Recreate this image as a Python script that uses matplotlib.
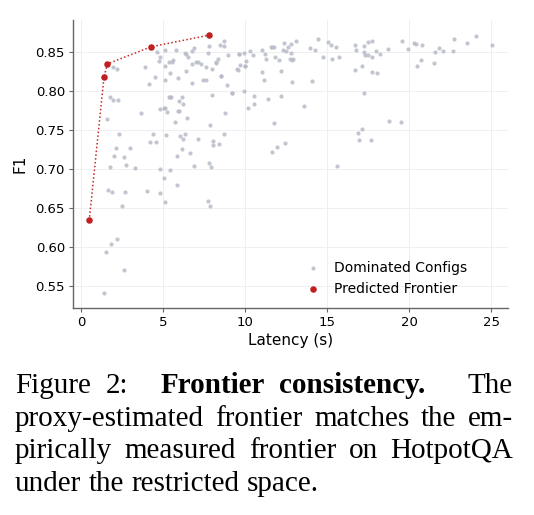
import matplotlib
matplotlib.use('Agg')
import matplotlib.pyplot as plt

# dominated configs (latency in s, F1)
dom_lat = [1.95, 2.2, 3.88, 4.13, 4.53, 4.63, 4.76, 4.84, 5.1, 5.1, 5.1, 5.35, 5.45, 5.53, 5.6, 5.81, 5.9,
           6.36, 6.4, 6.52, 6.38, 6.75, 6.87, 6.79, 6.79, 7.0, 7.15, 7.3, 7.44, 7.6, 7.62, 7.73, 7.8, 7.97,
           8.0, 8.2, 8.25, 8.35, 8.47, 8.5,
           1.75, 1.97, 2.24, 3.64, 4.8, 5.05, 5.1, 5.22, 5.35, 5.4, 5.5, 5.9, 5.95, 6.0, 6.15, 6.2, 6.48, 1.57,
           8.72, 8.74, 8.98, 8.55, 8.88, 9.17, 9.2, 8.78, 9.6, 9.65, 9.92, 10.04, 9.67, 9.51, 9.55, 9.98, 10.0,
           9.96, 10.3, 10.49, 10.57, 10.55, 10.16, 11.02, 11.2, 11.28, 11.02, 11.18, 11.4, 11.59, 11.63, 11.79,
           11.85, 12.05, 12.18, 12.18, 12.34, 12.32, 12.52, 12.6, 12.8, 12.8, 12.74, 12.86, 12.9, 13.09, 12.86,
           13.58, 13.96, 14.25, 14.43, 14.1, 14.74, 15.06, 15.22, 15.28, 15.53, 15.71, 16.67, 16.73, 17.13,
           16.71, 17.24,
           17.26, 17.46, 17.74, 17.26, 17.32, 17.5, 17.76, 17.95, 18.19, 17.76, 18.03, 18.72, 19.55, 19.92,
           20.26, 20.43, 20.77, 20.69, 20.5, 21.48, 21.54, 21.83, 22.03, 22.66, 22.74, 23.52, 24.09, 25.06,
           18.76, 19.5, 11.79, 11.63, 11.95, 12.46, 15.6, 16.9, 17.15, 16.93, 17.7, 8.74,
           2.3, 2.15, 2.03, 1.77, 2.99, 2.6, 2.74, 3.27, 1.65, 1.91, 2.68, 2.52, 4.02, 4.8, 5.12, 4.8, 5.08,
           5.45, 5.87, 4.39, 4.23, 4.55, 5.16, 5.73, 6.04, 6.22, 6.34, 6.18, 5.87, 6.63, 7.13, 6.89, 7.89,
           8.03, 8.07, 8.4, 7.79, 7.95, 7.76, 7.87,
           2.21, 1.81, 1.52, 2.6, 1.4]
dom_f1 = [.831, .828, .831, .809, .818, .850, .839, .844, .853, .833, .814, .837, .823, .838, .840, .853, .817,
          .849, .848, .844, .826, .852, .855, .835, .811, .838, .838, .835, .815, .814, .831, .849, .858, .828,
          .795, .837, .836, .842, .859, .819,
          .793, .789, .789, .772, .777, .779, .778, .773, .792, .792, .793, .775, .775, .788, .793, .783, .765, .764,
          .865, .858, .847, .819, .808, .798, .798, .772, .848, .848, .849, .839, .834, .828, .827, .833, .832,
          .800, .852, .847, .794, .784, .778, .853, .848, .841, .825, .814, .790, .857, .857, .857,
          .844, .840, .826, .794, .862, .853, .852, .857, .861, .849, .842, .840, .842, .864, .812,
          .781, .856, .853, .867, .813, .844, .863, .860, .842, .857, .844, .859, .853, .833,
          .827, .798,
          .858, .863, .865, .851, .846, .846, .844, .852, .848, .825, .824, .854, .865, .854,
          .862, .861, .859, .840, .833, .836, .850, .856, .852, .852, .867, .862, .871, .859,
          .762, .760, .759, .722, .729, .734, .704, .747, .752, .737, .737, .745,
          .745, .727, .717, .703, .727, .716, .705, .702, .673, .671, .671, .653, .672, .669, .658, .700, .689,
          .699, .679, .745, .735, .735, .744, .760, .742, .739, .745, .726, .717, .721, .739, .704, .757,
          .736, .731, .732, .708, .703, .659, .652,
          .610, .604, .593, .571, .541]

front_lat = [0.5, 1.4, 1.6, 4.25, 7.8]
front_f1 = [0.634, 0.818, 0.835, 0.857, 0.872]

x_ticks = [0, 5, 10, 15, 20, 25]
y_ticks = [0.55, 0.60, 0.65, 0.70, 0.75, 0.80, 0.85]

W, H = 534, 515
fig = plt.figure(figsize=(W / 100, H / 100), dpi=100)
ax = fig.add_axes([73.3 / W, 1 - 307.7 / H, 434.4 / W, 287.7 / H])

ax.grid(True, color='#efeff2', linewidth=0.7, zorder=0)
ax.scatter(dom_lat, dom_f1, s=9, color='#b7bcc8', alpha=0.85, linewidths=0,
           label='Dominated Configs', zorder=2)
ax.plot(front_lat, front_f1, linestyle=(0, (1, 1.5)), color='#c62828', linewidth=1.1, zorder=3)
ax.scatter(front_lat, front_f1, s=22, color='#c0201f', linewidths=0,
           label='Predicted Frontier', zorder=4)

ax.set_xlim(-0.47, 26.0)
ax.set_ylim(0.522, 0.8915)
ax.set_xticks(x_ticks)
ax.set_yticks(y_ticks)
ax.set_yticklabels(['%.2f' % v for v in y_ticks])
ax.tick_params(labelsize=9.5, length=3, pad=3, color='#666666', width=0.8)

for s in ['top', 'right']:
    ax.spines[s].set_visible(False)
for s in ['left', 'bottom']:
    ax.spines[s].set_color('#666666')
    ax.spines[s].set_linewidth(1.0)

ax.set_xlabel('Latency (s)', fontsize=11, labelpad=3)
ax.set_ylabel('F1', fontsize=11, labelpad=6)

ax.legend(loc='center left', bbox_to_anchor=(0.50, 0.103), frameon=False, fontsize=10,
          handlelength=1.4, handletextpad=0.8, labelspacing=0.5, borderpad=0.4)

# caption below the chart, justified like the paper
cap_fs = 21
r = fig.canvas.get_renderer()


def put_line(words, baseline, x0=15, x1=513, justify=True, weights=None):
    objs = [fig.text(0, 1 - baseline / H, w, fontsize=cap_fs, family='Liberation Serif',
                     weight=wt, va='baseline', ha='left') for w, wt in words]
    widths = [o.get_window_extent(r).width for o in objs]
    n = len(objs) - 1
    if weights is None:
        weights = [1] * n
    if justify:
        unit = ((x1 - x0) - sum(widths)) / sum(weights)
    else:
        unit = cap_fs * 100 / 72 * 0.25
    x = x0
    for i, (o, w) in enumerate(zip(objs, widths)):
        o.set_x(x / W)
        if i < n:
            x += w + unit * weights[i]


put_line([('Figure', 'normal'), ('2:', 'normal'), ('Frontier', 'bold'),
          ('consistency.', 'bold'), ('The', 'normal')], 393, weights=[1, 2.2, 1, 2.9])
put_line([(w, 'normal') for w in 'proxy-estimated frontier matches the em-'.split()], 426)
put_line([(w, 'normal') for w in 'pirically measured frontier on HotpotQA'.split()], 458.5)
put_line([(w, 'normal') for w in 'under the restricted space.'.split()], 491, justify=False)

fig.savefig('out.png', dpi=100)
